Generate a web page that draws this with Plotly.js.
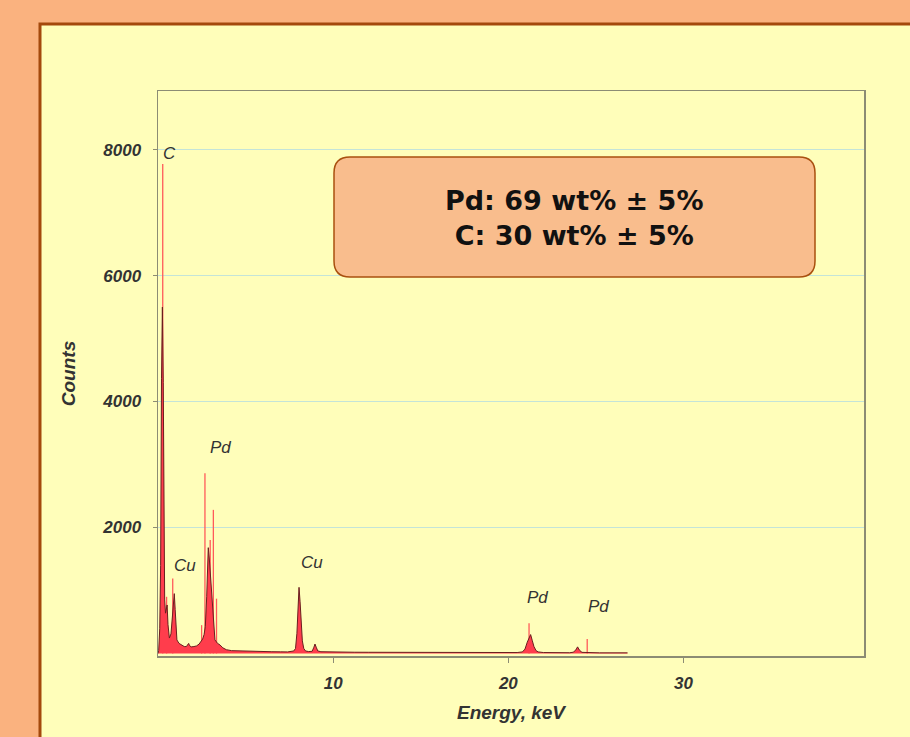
<!DOCTYPE html>
<html>
<head>
<meta charset="utf-8">
<script src="https://cdn.plot.ly/plotly-3.0.1.min.js"></script>
<style>
  html, body { margin: 0; padding: 0; background: #FAB27F; }
  #chart { width: 910px; height: 737px; }
</style>
</head>
<body>
<div id="chart"></div>
<script>
// ---- Data ----
// Spectrum envelope: energy (keV) and counts
const energy = [
  0.00,0.04,0.10,0.15,0.20,0.25,0.30,0.34,0.38,0.43,0.48,0.52,0.57,0.65,0.74,0.82,0.88,0.93,0.98,1.03,1.08,
  1.20,1.35,1.50,1.62,1.70,1.75,1.80,1.90,2.05,2.20,2.35,2.45,2.55,2.63,2.70,2.78,2.84,2.87,2.93,3.00,3.06,3.16,3.25,3.40,3.54,3.70,3.90,
  4.20,4.60,5.00,5.50,6.00,6.50,7.00,7.40,
  7.75,7.85,7.93,7.99,8.05,8.11,8.17,8.24,8.32,8.42,8.60,8.80,8.90,8.96,9.03,9.12,9.30,
  9.8,10.5,11.2,12.0,12.8,13.6,14.4,15.2,16.0,16.8,17.6,18.4,19.2,19.9,20.5,
  20.8,20.95,21.08,21.18,21.27,21.36,21.46,21.58,21.70,
  22.0,22.5,23.0,23.5,23.70,23.85,23.95,24.05,24.20,24.6,25.2,25.8,26.4,26.8
];
const counts = [
  0,50,400,1400,4370,5500,4300,1750,850,640,720,770,460,245,310,660,880,950,700,380,215,
  160,130,110,110,135,160,125,105,110,120,150,185,230,300,425,900,1450,1680,1500,1250,960,530,215,160,135,90,60,
  45,40,38,34,30,28,26,25,
  40,80,320,770,1050,820,450,200,80,40,30,35,100,150,100,40,28,
  24,22,20,19,18,17,16,15,15,14,14,13,13,13,15,
  25,70,180,260,300,210,110,45,25,
  15,12,12,12,20,55,105,55,18,12,10,10,10,10
];

// Narrow single-channel spikes above the envelope
const spikeEnergy = [0.27, 0.49, 0.84, 2.49, 2.68, 2.98, 3.16, 3.34, 21.18, 24.50];
const spikeCounts = [7770, 900, 1190, 450, 2860, 1800, 2280, 870, 480, 230];

// Peak labels
const peakLabels = ["C", "Pd", "Cu", "Cu", "Pd", "Pd"];
const peakLabelE = [0.68, 3.54, 1.54, 8.79, 21.69, 25.17];
const peakLabelC = [7930, 3278, 1390, 1438, 886, 743];

// Axis ticks
const xTickVals = [10, 20, 30];
const yTickVals = [2000, 4000, 6000, 8000];

// Composition box text
const compositionLines = ["Pd: 69 wt% \u00B1 5%", "C: 30 wt% \u00B1 5%"];

// ---- Build traces ----
const sx = [], sy = [];
spikeEnergy.forEach((e, i) => { sx.push(e, e, null); sy.push(0, spikeCounts[i], null); });

const traces = [
  {
    type: 'scatter', mode: 'lines', x: sx, y: sy,
    line: { color: '#FF5A5A', width: 1.3 },
    hoverinfo: 'skip', showlegend: false
  },
  {
    type: 'scatter', mode: 'lines', x: energy, y: counts,
    fill: 'tozeroy', fillcolor: '#FF3D4C',
    line: { color: '#6A1E1E', width: 1 },
    showlegend: false
  }
];

// ---- Layout ----
const W = 910, H = 737;
const mL = 158, mR = 46, mT = 91, mB = 81;
const pw = W - mL - mR, ph = H - mT - mB;
const px = v => (v - mL) / pw;        // pixel -> paper x
const py = v => (H - mB - v) / ph;    // pixel -> paper y

// rounded box path
const bx0 = px(334), bx1 = px(815), byT = py(157), byB = py(277);
const rx = 16 / pw, ry = 16 / ph;
const boxPath = `M ${bx0+rx},${byT} L ${bx1-rx},${byT} Q ${bx1},${byT} ${bx1},${byT-ry} ` +
  `L ${bx1},${byB+ry} Q ${bx1},${byB} ${bx1-rx},${byB} L ${bx0+rx},${byB} ` +
  `Q ${bx0},${byB} ${bx0},${byB+ry} L ${bx0},${byT-ry} Q ${bx0},${byT} ${bx0+rx},${byT} Z`;

const tickFont = { family: 'Liberation Sans, Arial, sans-serif', size: 17, color: '#333333', weight: 'bold', style: 'italic' };
const titleFont = { family: 'Liberation Sans, Arial, sans-serif', size: 19, color: '#333333', weight: 'bold', style: 'italic' };
const labelFont = { family: 'Liberation Sans, Arial, sans-serif', size: 17, color: '#333333', style: 'italic' };

const annotations = peakLabels.map((t, i) => ({
  x: peakLabelE[i], y: peakLabelC[i], xref: 'x', yref: 'y',
  text: t, showarrow: false, font: labelFont, xanchor: 'center', yanchor: 'middle'
}));
annotations.push({
  x: px(574), y: py(218), xref: 'paper', yref: 'paper',
  text: compositionLines.join('<br>'), showarrow: false,
  font: { family: 'DejaVu Sans, sans-serif', size: 27, color: '#111111', weight: 'bold' },
  xanchor: 'center', yanchor: 'middle', align: 'center'
});

const layout = {
  width: W, height: H,
  margin: { l: mL, r: mR, t: mT, b: mB, pad: 0 },
  paper_bgcolor: '#FAB27F',
  plot_bgcolor: 'rgba(0,0,0,0)',
  showlegend: false,
  xaxis: {
    range: [0, 40.3], tickvals: xTickVals, ticktext: xTickVals.map(String),
    showgrid: false, zeroline: false,
    showline: true, mirror: true, linecolor: '#8C8C74', linewidth: 1.5,
    ticks: 'outside', ticklen: 5, tickcolor: '#8C8C74', tickwidth: 1,
    ticklabelstandoff: 6,
    tickfont: tickFont,
    title: { text: 'Energy, keV', font: titleFont, standoff: 14 }
  },
  yaxis: {
    range: [-40, 8930], tickvals: yTickVals, ticktext: yTickVals.map(String),
    showgrid: true, gridcolor: '#C4E4D8', gridwidth: 1.5, zeroline: false,
    showline: true, mirror: true, linecolor: '#8C8C74', linewidth: 1.5,
    ticks: 'outside', ticklen: 4, tickcolor: '#8C8C74', tickwidth: 1,
    ticklabelstandoff: 8,
    tickfont: tickFont,
    title: { text: 'Counts', font: titleFont, standoff: 21 }
  },
  shapes: [
    { type: 'rect', xref: 'paper', yref: 'paper', layer: 'below',
      x0: px(40), x1: px(930), y0: py(760), y1: py(24),
      fillcolor: '#FFFEBA', line: { color: '#A4490C', width: 3 } },
    { type: 'path', xref: 'paper', yref: 'paper', layer: 'above',
      path: boxPath, fillcolor: '#F9BD8D', line: { color: '#A9500F', width: 1.5 } }
  ],
  annotations: annotations
};

Plotly.newPlot('chart', traces, layout, { displayModeBar: false, staticPlot: true });
</script>
</body>
</html>
